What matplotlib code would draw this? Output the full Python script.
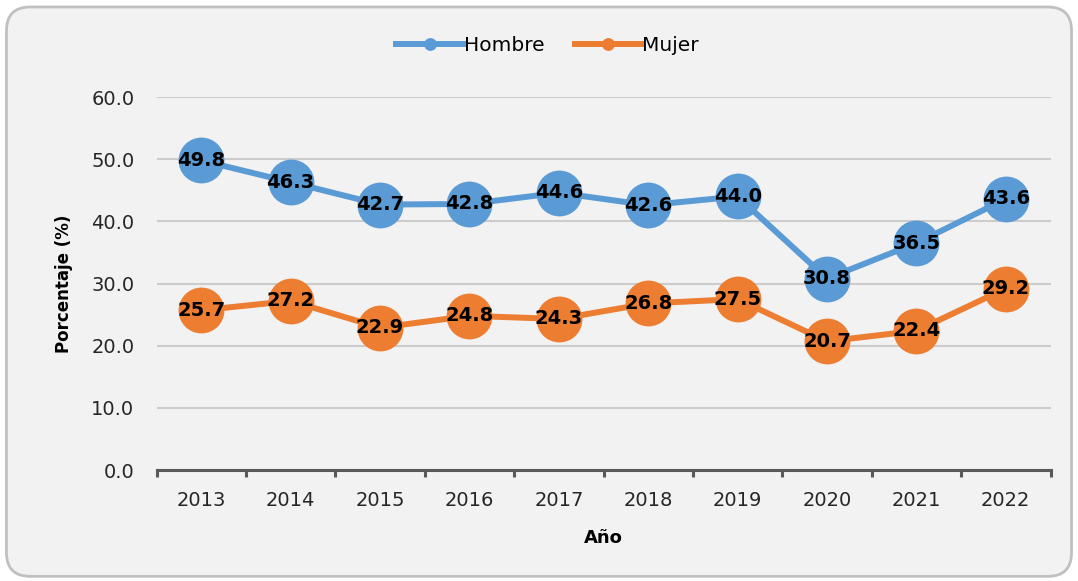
import matplotlib.pyplot as plt
from matplotlib.patches import FancyBboxPatch

years = ["2013", "2014", "2015", "2016", "2017", "2018", "2019", "2020", "2021", "2022"]
hombre = [49.8, 46.3, 42.7, 42.8, 44.6, 42.6, 44.0, 30.8, 36.5, 43.6]
mujer = [25.7, 27.2, 22.9, 24.8, 24.3, 26.8, 27.5, 20.7, 22.4, 29.2]
y_ticks = [0, 10, 20, 30, 40, 50, 60]

blue = "#5b9bd5"
orange = "#ed7d31"
bg = "#f2f2f2"

plt.rcParams["font.family"] = ["DejaVu Sans"]

fig = plt.figure(figsize=(10.78, 5.81), dpi=100)
fig.patch.set_facecolor("white")

# rounded chart frame, drawn behind the axes
frame = FancyBboxPatch(
    (0.006, 0.008), 0.988, 0.98,
    boxstyle="round,pad=0,rounding_size=0.022",
    transform=fig.transFigure,
    facecolor=bg, edgecolor="#c0c0c0", linewidth=2,
    mutation_aspect=1078 / 581, zorder=-1,
)
fig.patches.append(frame)

ax = fig.add_axes([0.1452, 0.191, 0.8293, 0.642])
ax.set_facecolor("none")

x = list(range(len(years)))

for values, color, name in [(hombre, blue, "Hombre"), (mujer, orange, "Mujer")]:
    ax.plot(x, values, color=color, linewidth=4.3, marker="o",
            markersize=33, markeredgewidth=0, label=name, zorder=3)
    for xi, v in zip(x, values):
        ax.text(xi, v, f"{v:.1f}", ha="center", va="center",
                fontsize=14, fontweight="bold", color="black", zorder=4)

ax.set_xlim(-0.5, len(years) - 0.5)
ax.set_ylim(0, 60)
ax.set_yticks(y_ticks)
ax.set_yticklabels([f"{t:.1f}" for t in y_ticks], fontsize=14, color="#262626")
ax.set_xticks(x)
ax.set_xticklabels(years, fontsize=14, color="#262626")
ax.tick_params(axis="y", length=0, pad=16)
ax.tick_params(axis="x", length=0, pad=15)

# tick marks between categories
ax.set_xticks([i - 0.5 for i in range(len(years) + 1)], minor=True)
ax.tick_params(axis="x", which="minor", length=5, width=2.2, color="#595959", direction="out")

ax.grid(axis="y", color="#cccccc", linewidth=1.5, zorder=0)
ax.set_axisbelow(True)
for side in ["top", "right", "left"]:
    ax.spines[side].set_visible(False)
ax.spines["bottom"].set_color("#595959")
ax.spines["bottom"].set_linewidth(2.2)

ax.set_ylabel("Porcentaje (%)", fontsize=12, fontweight="bold", labelpad=13)
ax.set_xlabel("Año", fontsize=13, fontweight="bold", labelpad=14)

handles, labels = ax.get_legend_handles_labels()
fig.legend(handles, labels, loc="center", bbox_to_anchor=(0.508, 0.922),
           ncol=2, frameon=False, fontsize=14.5, handlelength=3.3,
           handletextpad=0.05, columnspacing=1.5, markerscale=0.28)

fig.savefig("out.png", dpi=100, facecolor="white")
